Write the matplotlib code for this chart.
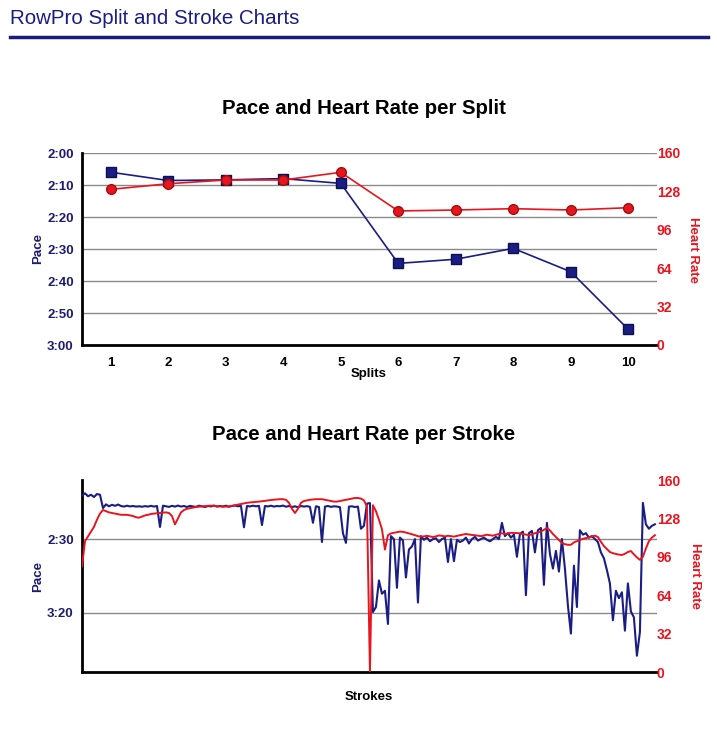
import matplotlib
matplotlib.use("Agg")
import matplotlib.pyplot as plt
from matplotlib.ticker import FuncFormatter, FixedLocator
import numpy as np

plt.rcParams['font.family'] = ['Liberation Sans', 'DejaVu Sans']

# ---------------- data ----------------
splits = [1, 2, 3, 4, 5, 6, 7, 8, 9, 10]
split_pace_sec = [126.0, 128.6, 128.4, 128.0, 129.5, 154.5, 153.2, 149.8, 157.1, 175.1]
split_hr = [129.7, 134.4, 137.5, 137.5, 143.9, 111.7, 112.5, 113.6, 112.5, 114.4]

pace_ticks_split = [120, 130, 140, 150, 160, 170, 180]
hr_ticks = [0, 32, 64, 96, 128, 160]
pace_ticks_stroke = [150, 200]

stroke_pace_sec = [
    120.5, 119, 121, 120, 121.5, 119.5, 120, 129, 126.5, 127.8,
    126.8, 127.5, 126.6, 127.6, 128, 127.4, 127.9, 127.6, 128, 127.8,
    128.1, 127.7, 128, 127.5, 128, 127.6, 141.8, 127.4, 127.8, 128.2,
    127.5, 128, 127.3, 128, 127.6, 128.3, 127.5, 127.9, 128.2, 127.4,
    127.8, 128.3, 127.6, 127.9, 127.3, 128, 127.6, 127.9, 127.4, 128.1,
    127.6, 127.3, 127.8, 127.5, 142, 127.6, 127.9, 127.4, 127.8, 127.5,
    140.5, 127.6, 127.9, 127.4, 128, 127.6, 127.8, 127.3, 128.1, 127.6,
    128.3, 127.8, 128.5, 127.6, 128, 127.7, 128.2, 139, 127.8, 128.3,
    152, 128, 127.6, 128.2, 127.8, 128, 128.4, 146, 152.6, 128,
    127.8, 128.3, 128, 143, 141, 126, 125.6, 199.4, 196, 178,
    187, 185, 207.5, 148, 150, 183, 149, 151, 176, 157,
    155, 150, 193, 148, 150.5, 149, 151.5, 150, 149.5, 152,
    150, 149, 165.5, 150, 165, 150.5, 152, 151, 149, 153,
    150, 148.5, 151, 150, 149, 150.5, 151.5, 150, 148.5, 150,
    139, 148, 146, 149, 147, 162, 146.5, 145, 188, 146,
    144.5, 159, 144, 142.5, 181, 139, 160, 170, 158, 172,
    150, 170, 195, 214, 168, 196, 144, 147, 146, 149,
    148, 150, 152, 159, 163, 171, 180, 205, 185, 190,
    186, 212, 180, 199, 203, 229, 213, 125.5, 140, 143,
    141, 140,
]

stroke_hr = [
    88, 109, 113, 117, 121, 127, 132, 135, 134, 133,
    132.5, 132, 131.5, 131, 131, 131, 130.5, 130, 129, 128.6,
    129.5, 130.5, 131, 131.7, 132, 132.3, 132.5, 132.8, 133, 132.5,
    130, 123, 128, 133, 135, 136, 136.5, 137, 137.5, 137.8,
    138, 138.2, 138.5, 138.6, 138.4, 138.2, 138, 137.8, 137.8, 138,
    138.5, 139, 139.5, 140, 140.5, 141, 141.3, 141.5, 141.8, 142,
    142.3, 142.6, 143, 143.3, 143.6, 143.8, 144, 144, 143.5, 141,
    136, 132.5, 136, 141, 142.5, 143, 143.5, 143.8, 144, 144,
    144, 143.5, 143, 142.5, 142, 142, 142.5, 143, 143.5, 144,
    144.5, 145, 145, 144.5, 143, 138, 0, 139, 134, 127,
    119, 102, 114, 115.5, 116, 116.5, 117, 116.8, 116.2, 115.5,
    114.8, 114, 113.2, 112.8, 113, 113.5, 113, 112.5, 113, 113.8,
    113.5, 113, 113.5, 113.2, 112.8, 113.4, 114, 114.5, 115, 114.6,
    114.2, 114, 113.6, 113.2, 113.8, 114.4, 114, 113.6, 114.4, 115,
    115.6, 115, 115.4, 116, 115.8, 115.8, 115.5, 115, 114.5, 114,
    114.8, 115.6, 116.4, 117, 118.5, 120, 118, 115, 112.5, 110,
    107.5, 106.5, 106, 106, 108, 109, 110, 111, 111.6, 112.2,
    113, 113.6, 112.5, 108.5, 105, 102.5, 100, 99, 98.4, 97.8,
    97.5, 98.5, 100, 100.8, 98, 95.5, 93.5, 96, 103, 109,
    112, 114,
]

# ---------------- style ----------------
NAVY = '#1a1d84'
NAVY_TXT = '#1c1c70'
RED = '#e8141e'
GRID = '#8a8a8a'
W, H = 717, 731


def fx(px):
    return px / W


def fy(py):
    return 1 - py / H


def mmss(v, pos=None):
    v = int(round(v))
    return f"{v // 60}:{v % 60:02d}"


fig = plt.figure(figsize=(W / 100, H / 100), dpi=100)
fig.patch.set_facecolor('white')

# page title and rule
fig.text(fx(10), fy(18), "RowPro Split and Stroke Charts", fontsize=14.8,
         color=NAVY, ha='left', va='center')
fig.add_artist(plt.Line2D([fx(10), fx(708)], [fy(37), fy(37)],
                          color='#1b1b7a', lw=2.5, transform=fig.transFigure))


def style_axes(ax, ax2):
    for s in ['top', 'right']:
        ax.spines[s].set_visible(False)
        ax2.spines[s].set_visible(False)
    ax2.spines['left'].set_visible(False)
    ax2.spines['bottom'].set_visible(False)
    ax.spines['left'].set_linewidth(2)
    ax.spines['bottom'].set_linewidth(2)
    ax.spines['left'].set_color('black')
    ax.spines['bottom'].set_color('black')
    ax.yaxis.grid(True, color=GRID, lw=1)
    ax.set_axisbelow(True)
    ax.tick_params(axis='y', length=0, pad=6, labelsize=9.5, labelcolor=NAVY_TXT)
    for t in ax.get_yticklabels():
        t.set_fontweight('bold')
    ax2.tick_params(axis='y', length=0, pad=0, labelsize=10, labelcolor=RED)
    ax2.set_ylim(0, 160)
    ax2.yaxis.set_major_locator(FixedLocator(hr_ticks))
    for t in ax2.get_yticklabels():
        t.set_fontweight('bold')
    ax.set_facecolor('none')


# ---------------- top chart ----------------
ax1 = fig.add_axes([fx(82), fy(345), fx(657) - fx(82), fy(153) - fy(345)])
ax1b = ax1.twinx()
ax1.plot(splits, split_pace_sec, color=NAVY, lw=1.2, marker='s', ms=6.5,
         mfc=NAVY, mec='#101050', zorder=3)
ax1b.plot(splits, split_hr, color=RED, lw=1.2, marker='o', ms=7,
          mfc=RED, mec='#a01010', zorder=3)
ax1.set_xlim(0.5, 10.5)
ax1.set_ylim(180, 120)
ax1.yaxis.set_major_locator(FixedLocator(pace_ticks_split))
ax1.yaxis.set_major_formatter(FuncFormatter(mmss))
ax1.set_xticks(splits)
ax1.tick_params(axis='x', length=0, pad=9, labelsize=9.5)
for t in ax1.get_xticklabels():
    t.set_fontweight('bold')
style_axes(ax1, ax1b)

fig.text(fx(364), fy(109), "Pace and Heart Rate per Split", fontsize=14.7,
         fontweight='bold', ha='center', va='center')
fig.text(fx(369), fy(374), "Splits", fontsize=9.5, fontweight='bold',
         ha='center', va='center')
fig.text(fx(38), fy(249), "Pace", fontsize=9.5, fontweight='bold',
         color=NAVY_TXT, rotation=90, ha='center', va='center')
fig.text(fx(693), fy(250), "Heart Rate", fontsize=9.5, fontweight='bold',
         color=RED, rotation=-90, ha='center', va='center')

# ---------------- bottom chart ----------------
strokes = np.arange(len(stroke_pace_sec))
ax2 = fig.add_axes([fx(82), fy(672), fx(657) - fx(82), fy(480) - fy(672)])
ax2b = ax2.twinx()
ax2.plot(strokes, stroke_pace_sec, color=NAVY, lw=1.5, zorder=3)
ax2b.plot(strokes, stroke_hr, color=RED, lw=1.4, zorder=3)
ax2.set_xlim(0, len(strokes) - 0.3)
ax2.set_ylim(240, 110)
ax2.yaxis.set_major_locator(FixedLocator(pace_ticks_stroke))
ax2.yaxis.set_major_formatter(FuncFormatter(mmss))
ax2.set_xticks([])
style_axes(ax2, ax2b)

fig.text(fx(364), fy(435), "Pace and Heart Rate per Stroke", fontsize=14.7,
         fontweight='bold', ha='center', va='center')
fig.text(fx(369), fy(697), "Strokes", fontsize=9.5, fontweight='bold',
         ha='center', va='center')
fig.text(fx(38), fy(576), "Pace", fontsize=9.5, fontweight='bold',
         color=NAVY_TXT, rotation=90, ha='center', va='center')
fig.text(fx(695), fy(576), "Heart Rate", fontsize=9.5, fontweight='bold',
         color=RED, rotation=-90, ha='center', va='center')

fig.savefig("out.png", dpi=100, facecolor='white')
